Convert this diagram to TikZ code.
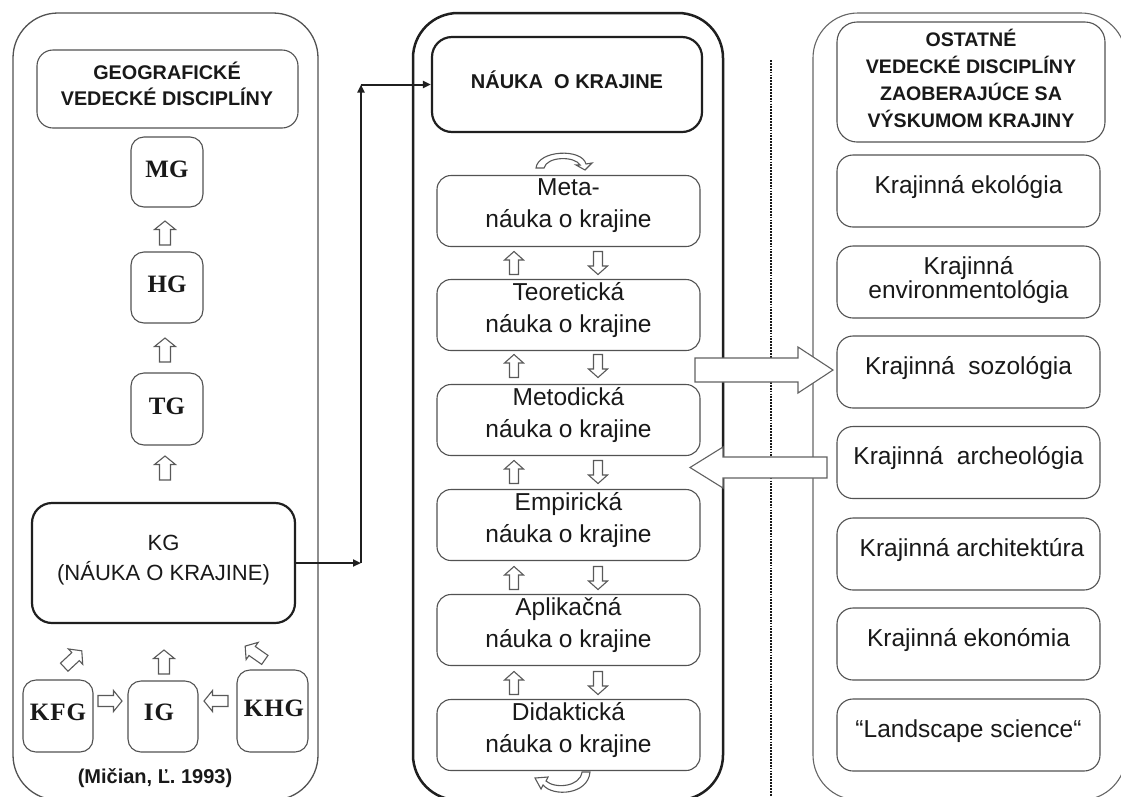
\documentclass[tikz,border=0pt]{standalone}
\usepackage{fontspec}
\setmainfont{Liberation Sans}
\newfontfamily\timesf{Liberation Serif}
\usetikzlibrary{arrows.meta}

\newcommand\hdfont{\bfseries\fontsize{19.8}{26}\selectfont}
\newcommand\rhfont{\bfseries\fontsize{19.6}{27}\selectfont}
\newcommand\kgfont{\fontsize{22}{30}\selectfont}
\newcommand\bxfont{\fontsize{24.5}{32}\selectfont}
\newcommand\rtfont{\fontsize{24.5}{31}\selectfont}
\newcommand\tmfont{\timesf\bfseries\fontsize{25}{28}\selectfont}

\begin{document}
\begin{tikzpicture}[x=1pt,y=-1pt,
  box/.style={draw=black!68, line width=1.1pt, rounded corners=13pt, inner sep=0pt},
  heavybox/.style={draw=black!88, line width=2.2pt, rounded corners=20pt, inner sep=0pt},
  txt/.style={text=black!90, align=center, inner sep=0pt},
  frame/.style={draw=black!68, line width=1.3pt, rounded corners=45pt},
  heavyframe/.style={draw=black!88, line width=2.5pt, rounded corners=45pt},
  conn/.style={draw=black!88, line width=2pt, -{Triangle[length=8pt,width=7pt]}},
  hollow/.style={draw=black!65, line width=1.1pt, fill=white, line join=miter},
  harrow/.pic={\draw[hollow] (-12,-5.5) -- (3.5,-5.5) -- (3.5,-10.5) -- (12,0)
      -- (3.5,10.5) -- (3.5,5.5) -- (-12,5.5) -- cycle;},
  marrow/.pic={\draw[hollow] (-11.5,-4.5) -- (3,-4.5) -- (3,-9.5) -- (11.5,0)
      -- (3,9.5) -- (3,4.5) -- (-11.5,4.5) -- cycle;}
]
\useasboundingbox (0,0) rectangle (1121,796);
\fill[white] (0,0) rectangle (1121,796);

% ---------- three column frames ----------
\draw[frame] (13,13) rectangle (318,800);
\draw[heavyframe] (413,13) rectangle (723,800);
\draw[frame, draw=black!60, line width=1.1pt] (813,13) rectangle (1126,800);

% dotted separator
\draw[black!90, line width=2.6pt, dash pattern=on 1.8pt off 1.1pt] (771,60) -- (771,796);

% ---------- left column: geographical disciplines ----------
\node[box, rounded corners=16pt, minimum width=261pt, minimum height=78pt] (geo) at (167.5,89) {};
\node[txt, font=\hdfont] (geo-t) at (167,84) {GEOGRAFICKÉ\\VEDECKÉ DISCIPLÍNY};

\node[box, minimum width=72pt, minimum height=70pt] (mg) at (167,172) {};
\node[txt, font=\tmfont] (mg-t) at (167,169) {MG};
\node[box, minimum width=72pt, minimum height=71pt] (hg) at (167,287.5) {};
\node[txt, font=\tmfont] (hg-t) at (167,284) {HG};
\node[box, minimum width=72pt, minimum height=72pt] (tg) at (167,409) {};
\node[txt, font=\tmfont] (tg-t) at (167,406) {TG};

\node[heavybox, minimum width=263pt, minimum height=120pt] (kg) at (163.5,563) {};
\node[txt, font=\kgfont] (kg-t) at (163.5,560) {KG\\(NÁUKA O KRAJINE)};

\node[box, minimum width=70pt, minimum height=72pt] (kfg) at (58,716) {};
\node[txt, font=\tmfont] (kfg-t) at (58,712) {K\kern1ptF\kern1ptG};
\node[box, minimum width=70pt, minimum height=71pt] (ig) at (163,716.5) {};
\node[txt, font=\tmfont] (ig-t) at (159,712) {I\kern1ptG};
\node[box, minimum width=71pt, minimum height=82pt] (khg) at (272.5,711) {};
\node[txt, font=\tmfont] (khg-t) at (274,708) {K\kern1ptH\kern1ptG};

\node[txt, font=\bfseries\fontsize{20}{24}\selectfont] (cite) at (155,778) {(Mičian, Ľ. 1993)};

% hollow arrows of the left column
\pic[rotate=90] at (165,233) {harrow};
\pic[rotate=90] at (165,350) {harrow};
\pic[rotate=90] at (165,468) {harrow};
\pic[rotate=90] at (164,662) {harrow};
\pic[rotate=43] at (73,659) {harrow};
\pic[rotate=145] at (255,653) {harrow};
\pic at (110,701) {harrow};
\pic[rotate=180] at (216,701) {harrow};

% ---------- middle column: landscape science ----------
\node[heavybox, minimum width=270pt, minimum height=95pt] (nauka) at (567,84.5) {};
\node[txt, font=\bfseries\fontsize{20}{24}\selectfont] (nauka-t) at (567,80) {NÁUKA\ \ O KRAJINE};

\foreach \nm/\yy/\ttl in {meta/211/Meta-, teo/315/Teoretická, metod/420/Metodická,
                          emp/525/Empirická, apl/630/Aplikačná, did/735/Didaktická}{
  \node[box, rounded corners=14pt, minimum width=263pt, minimum height=71pt] (\nm) at (568.5,\yy) {};
  \node[txt, font=\bxfont] (\nm-t) at (568.5,\yy-5) {\ttl\\náuka o krajine};
}

% up / down arrows between the levels
\foreach \yy in {263,366,472,578,683}{
  \pic[rotate=90] at (514,\yy) {marrow};
  \pic[rotate=-90] at (598,\yy) {marrow};
}

% curved arrows above the first and below the last level
\draw[hollow] (536,168) .. controls (538,150) and (582,148) .. (586,164)
  -- (592,163) -- (585,170) -- (576,165) -- (580,165)
  .. controls (575,156) and (547,156) .. (544,168) -- cycle;
\draw[hollow] (590,772) .. controls (588,795) and (553,797) .. (543,785)
  -- (541,789) -- (535,778) -- (548,777) -- (546,781)
  .. controls (555,789) and (580,787) .. (582,772) -- cycle;

% connector from KG to the landscape-science block
\coordinate (c1) at (361,563);
\coordinate (c2) at (361,84.5);
\draw[conn] (kg.east) -- (c1);
\draw[conn] (c1) -- (c2);
\draw[conn] (c2) -- (nauka.west);

% ---------- right column: other disciplines ----------
\node[box, rounded corners=20pt, minimum width=268pt, minimum height=120pt] (other) at (971,82) {};
\node[txt, font=\rhfont] (other-t) at (971,78)
  {OSTATNÉ\\VEDECKÉ DISCIPLÍNY\\ZAOBERAJÚCE SA\\VÝSKUMOM KRAJINY};

\foreach \nm/\yy in {eko/191, env/282, sozo/372, arch/462.5, archit/554, ekon/644, land/735}{
  \node[box, rounded corners=16pt, minimum width=263pt, minimum height=72pt] (\nm) at (968.5,\yy) {};
}
\node[txt, font=\rtfont] (eko-t) at (968.5,187) {Krajinná ekológia};
\node[txt, font=\fontsize{24.5}{18}\selectfont] (env-t) at (968.5,280) {Krajinná\\environmentológia};
\node[txt, font=\rtfont] (sozo-t) at (968.5,368) {Krajinná\ \ sozológia};
\node[txt, font=\rtfont] (arch-t) at (968.5,458.5) {Krajinná\ \ archeológia};
\node[txt, font=\rtfont] (archit-t) at (972,550) {Krajinná architektúra};
\node[txt, font=\rtfont] (ekon-t) at (968.5,640) {Krajinná ekonómia};
\node[txt, font=\rtfont] (land-t) at (968.5,731) {“Landscape science“};

% ---------- exchange arrows between the middle and right columns ----------
\draw[hollow, draw=black!62] (695,358) -- (798,358) -- (798,347) -- (833,370)
  -- (798,393) -- (798,382) -- (695,382) -- cycle;
\draw[hollow, draw=black!62] (827,457) -- (723,457) -- (723,447) -- (690,467.5)
  -- (723,488) -- (723,478) -- (827,478) -- cycle;

\end{tikzpicture}
\end{document}
